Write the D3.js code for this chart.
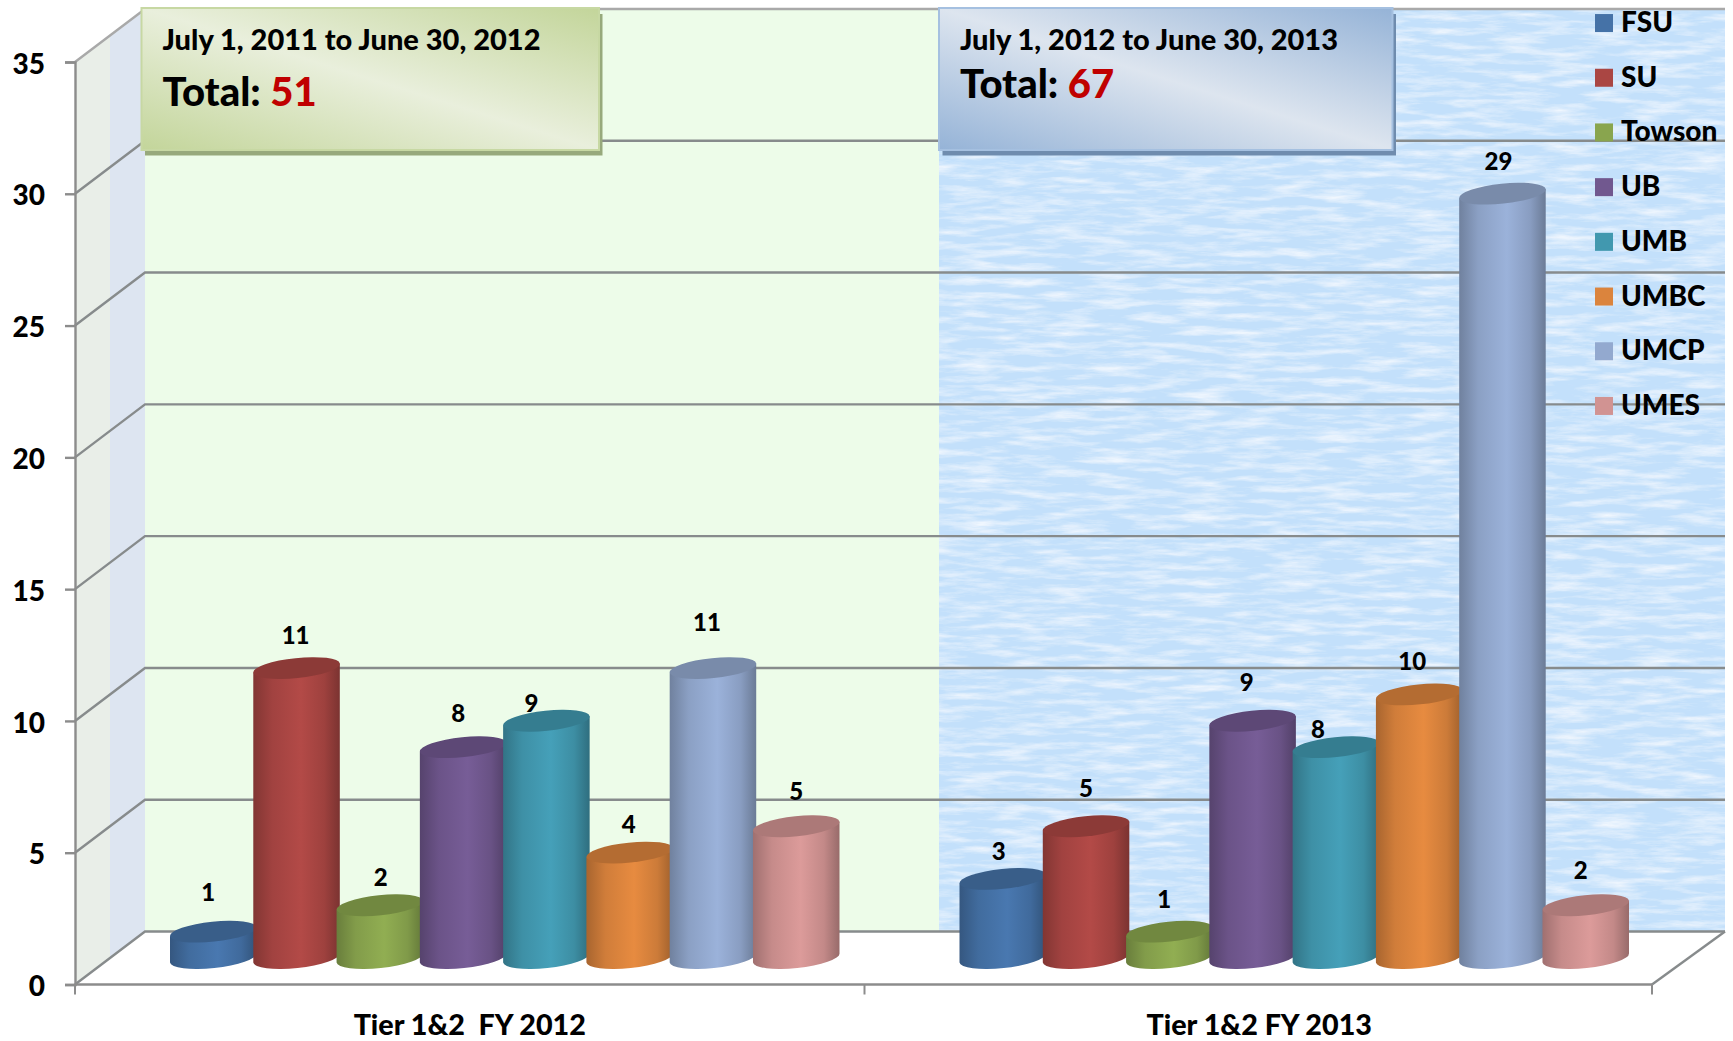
<!DOCTYPE html>
<html>
<head>
<meta charset="utf-8">
<title>Tier 1&amp;2</title>
<script src="https://cdn.jsdelivr.net/npm/d3@7"></script>
<style>
    html, body { margin: 0; padding: 0; background: #fff; }
    svg { display: block; font-family: Lato, "Open Sans", sans-serif; font-weight: 900; }
</style>
</head>
<body>
<svg id="chart" width="1733" height="1041"></svg>
<script>
// values
const categories = ["Tier 1&2  FY 2012", "Tier 1&2 FY 2013"];
const schools = ["FSU", "SU", "Towson", "UB", "UMB", "UMBC", "UMCP", "UMES"];
const fy2012 = [1, 11, 2, 8, 9, 4, 11, 5];
const fy2013 = [3, 5, 1, 9, 8, 10, 29, 2];
const yTicks = [0, 5, 10, 15, 20, 25, 30, 35];
const colors = ["#4572a7", "#aa4643", "#89a54e", "#71588f", "#4198af", "#db843d", "#93a9cf", "#d19392"];
const periods = ["July 1, 2011 to June 30, 2012", "July 1, 2012 to June 30, 2013"];
const totals = [51, 67];

// hand-placed data labels in the original, nudged from the bar centre
const labelLift = [[39, 33, 28, 34, 17, 28, 46, 35], [28, 38, 32, 38, 18, 33, 32, 35]];
const labelShift = [[-5, -1, 1, -5, -15, -1, -6, 0], [-4, 0, -5, -6, -18, -7, -4, -5]];

const depthX = 70, depthY = 53;
const tilt = 6, rx = 43.5, ry = 10;
const floorEnd = 1652;

const svg = d3.select("#chart");

const x0 = d3.scaleBand().domain(categories).range([75, 1654]);
const x1 = d3.scaleBand().domain(schools).range([0, x0.bandwidth()]).paddingInner(0).paddingOuter(0.74);
const y = d3.scaleLinear().domain([0, 35]).range([984.5, 62]);

const defs = svg.append("defs");

// streaky water texture for the right hand wall
const water = defs.append("filter").attr("id", "water")
    .attr("x", 0).attr("y", 0).attr("width", 1).attr("height", 1);
water.append("feTurbulence").attr("type", "fractalNoise")
    .attr("baseFrequency", "0.022 0.14").attr("numOctaves", 5).attr("seed", 7);
water.append("feColorMatrix").attr("type", "matrix")
    .attr("values", "0 0 0 0 1  0 0 0 0 1  0 0 0 0 1  1.5 0 0 0 -0.62");
water.append("feComposite").attr("in2", "SourceGraphic").attr("operator", "over");

schools.forEach((s, i) => {
    const c = d3.color(colors[i]);
    const g = defs.append("linearGradient").attr("id", "body" + i);
    g.append("stop").attr("offset", "0%").attr("stop-color", c.darker(0.75));
    g.append("stop").attr("offset", "22%").attr("stop-color", c.darker(0.15));
    g.append("stop").attr("offset", "55%").attr("stop-color", c.brighter(0.15));
    g.append("stop").attr("offset", "82%").attr("stop-color", c.darker(0.2));
    g.append("stop").attr("offset", "100%").attr("stop-color", c.darker(0.9));
});

const boxFills = [["#c3d59a", "#e9efdc"], ["#95b3d7", "#dde5ef"]];
boxFills.forEach((f, i) => {
    const g = defs.append("linearGradient").attr("id", "box" + i)
        .attr("x1", 1).attr("y1", 0).attr("x2", 0).attr("y2", 1);
    g.append("stop").attr("offset", "0%").attr("stop-color", f[0]);
    g.append("stop").attr("offset", "50%").attr("stop-color", f[1]);
    g.append("stop").attr("offset", "100%").attr("stop-color", f[0]);
});

const left = x0.range()[0] + depthX;
const split = 939;
const right = floorEnd + depthX + 3;
const yBack = v => y(v) - depthY;

// side wall, two tints
const wall = svg.append("g");
wall.append("polygon").attr("fill", "#e9eee8")
    .attr("points", [[75, y(0)], [75, y(35)], [110, y(35) - 26], [110, y(0) - 26]].join(" "));
wall.append("polygon").attr("fill", "#dde5f1")
    .attr("points", [[110, y(0) - 26], [110, y(35) - 26], [left, yBack(35)], [left, yBack(0)]].join(" "));

// back walls
svg.append("rect").attr("x", left).attr("y", yBack(35)).attr("width", split - left)
    .attr("height", yBack(0) - yBack(35)).attr("fill", "#edfce9");
svg.append("rect").attr("x", split).attr("y", yBack(35)).attr("width", right - split)
    .attr("height", yBack(0) - yBack(35)).attr("fill", "#c3e0fb").attr("filter", "url(#water)");

// floor
svg.append("polygon").attr("fill", "#fff")
    .attr("points", [[75, y(0)], [left, yBack(0)], [right, yBack(0)], [floorEnd, y(0)]].join(" "));

// gridlines run along the wall and down the side
const grid = svg.append("g").attr("fill", "none").attr("stroke", "#878b8c").attr("stroke-width", 2.4);
grid.selectAll("path").data(yTicks).join("path")
    .attr("d", v => `M75,${y(v)}L${left},${yBack(v)}H${right}`)
    .attr("stroke", v => v === 35 ? "#a9a9a9" : "#878b8c");
grid.append("path")
    .attr("d", `M${floorEnd},${y(0)}L${right},${yBack(0)}`);

// y axis
const yAxis = svg.append("g").attr("transform", "translate(75,0)")
    .call(d3.axisLeft(y).tickValues(yTicks).tickSize(10).tickPadding(20));
yAxis.select(".domain").attr("stroke", "#8c8c8c").attr("stroke-width", 2.4);
yAxis.selectAll(".tick line").attr("stroke", "#8c8c8c").attr("stroke-width", 2.4);
yAxis.selectAll("text").attr("font-size", 28).attr("font-family", "Lato").attr("font-weight", 900)
    .attr("fill", "#000").attr("dy", "0.4em");

// x axis, labels from the axis, ticks on the band edges
const xAxis = svg.append("g").attr("transform", `translate(0,${y(0)})`)
    .call(d3.axisBottom(x0).tickSize(0).tickPadding(30));
xAxis.select(".domain").remove();
xAxis.selectAll("text").attr("font-size", 28.7).attr("font-family", "Lato").attr("font-weight", 900)
    .attr("fill", "#000").style("white-space", "pre");
svg.append("path").attr("fill", "none").attr("stroke", "#8c8c8c").attr("stroke-width", 2.4)
    .attr("d", `M75,${y(0)}H${floorEnd}`);
svg.append("g").selectAll("line").data([75, x0.range()[0] + x0.step(), floorEnd]).join("line")
    .attr("x1", d => d)
    .attr("x2", d => d)
    .attr("y1", y(0)).attr("y2", y(0) + 10)
    .attr("stroke", "#8c8c8c").attr("stroke-width", 2);

// cylinders
const rad = tilt * Math.PI / 180;
const dx = rx * Math.cos(rad), dy = rx * Math.sin(rad);

[fy2012, fy2013].forEach((values, c) => {
    const group = svg.append("g").attr("class", "group" + c);
    const cat = categories[c];
    const cx = i => x0(cat) + x1(schools[i]) + x1.bandwidth() / 2 + depthX / 2;
    const topY = v => y(v) - depthY / 2;
    const baseY = y(0) - depthY / 2;

    const bar = group.selectAll("g").data(values).join("g");
    bar.append("path")
        .attr("fill", (d, i) => `url(#body${i})`)
        .attr("d", (d, i) => {
            const a = cx(i);
            return `M${a - dx},${topY(d) + dy}L${a - dx},${baseY + dy}`
                + `A${rx},${ry} ${-tilt} 0 0 ${a + dx},${baseY - dy}`
                + `L${a + dx},${topY(d) - dy}Z`;
        });
    bar.append("ellipse")
        .attr("rx", rx).attr("ry", ry)
        .attr("fill", (d, i) => d3.color(colors[i]).darker(0.55))
        .attr("transform", (d, i) => `translate(${cx(i)},${topY(d)}) rotate(${-tilt})`);
    bar.append("text")
        .attr("x", (d, i) => cx(i) + labelShift[c][i])
        .attr("y", (d, i) => topY(d) - labelLift[c][i])
        .attr("dy", "0.36em")
        .attr("text-anchor", "middle")
        .attr("font-size", 24)
        .text(d => d);
});

// legend
const legendY = d3.scaleBand().domain(schools).range([-4.3, 433.3]);
const legend = svg.append("g").selectAll("g").data(schools).join("g")
    .attr("transform", d => `translate(1595,${legendY(d) + legendY.bandwidth() / 2})`);
legend.append("rect").attr("y", -9).attr("width", 18).attr("height", 18)
    .attr("fill", (d, i) => colors[i]);
legend.append("text").attr("x", 26).attr("y", 9).attr("font-size", 28).text(d => d);

// period call-outs
const boxes = svg.append("g").selectAll("g").data(periods).join("g");
const boxLeft = [141.5, 939], boxRight = [599, 1392.5];
const shadows = ["#97a97c", "#6f8cae"], edges = ["#c7d8a3", "#a5c0e0"];
boxes.append("rect")
    .attr("x", (d, i) => boxLeft[i] + 3.5).attr("y", 14)
    .attr("width", (d, i) => boxRight[i] - boxLeft[i]).attr("height", 141.5)
    .attr("fill", (d, i) => shadows[i]);
boxes.append("rect")
    .attr("x", (d, i) => boxLeft[i]).attr("y", 8)
    .attr("width", (d, i) => boxRight[i] - boxLeft[i]).attr("height", 142)
    .attr("fill", (d, i) => `url(#box${i})`)
    .attr("stroke", (d, i) => edges[i]).attr("stroke-width", 2);
boxes.append("text")
    .attr("x", (d, i) => boxLeft[i] + 21).attr("y", 50)
    .attr("font-size", 29).text(d => d);
const totalText = boxes.append("text")
    .attr("x", (d, i) => boxLeft[i] + 21).attr("y", (d, i) => i === 0 ? 106 : 98)
    .attr("font-size", 40);
totalText.append("tspan").text("Total: ");
totalText.append("tspan").attr("fill", "#c00000").text((d, i) => totals[i]);
</script>
</body>
</html>
